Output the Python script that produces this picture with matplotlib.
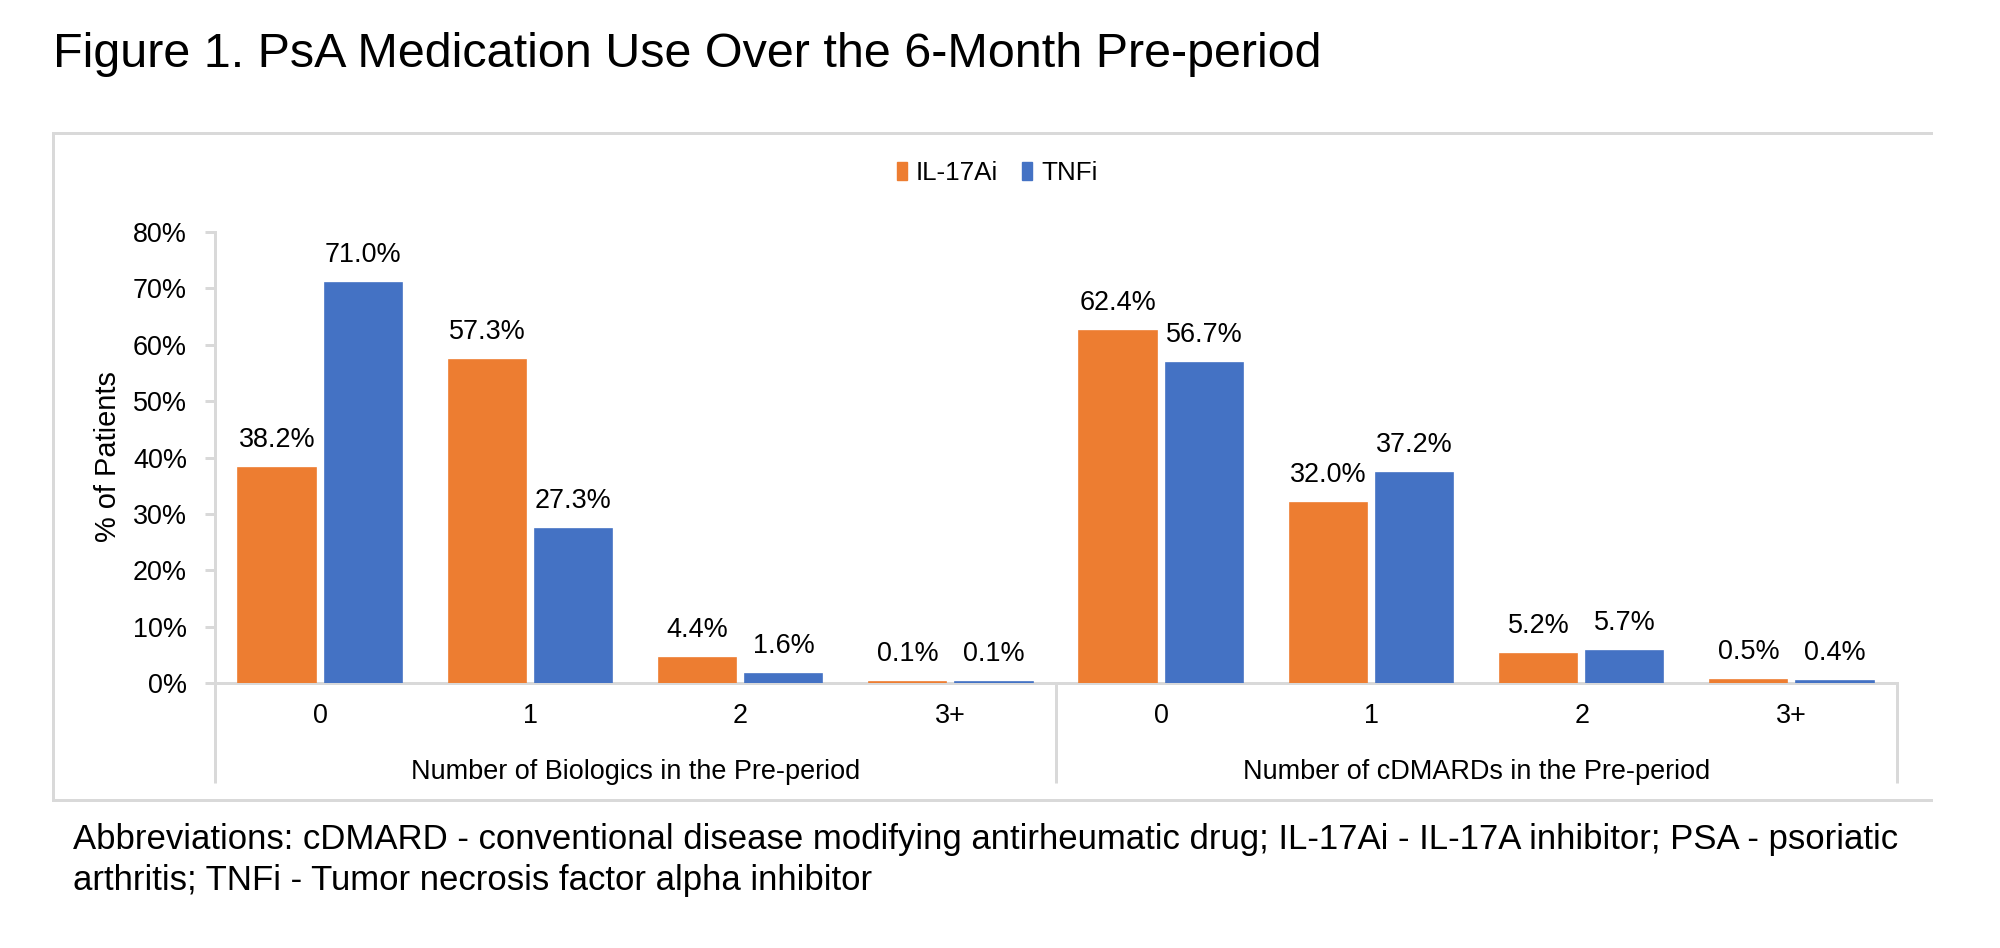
import numpy as np
import matplotlib
matplotlib.use("Agg")
import matplotlib.pyplot as plt
from matplotlib.lines import Line2D
from matplotlib.patches import Patch

plt.rcParams["font.family"] = ["Liberation Sans", "DejaVu Sans"]

# ---- data -----------------------------------------------------------------
CATEGORIES = ["0", "1", "2", "3+"]
GROUPS = ["Number of Biologics in the Pre-period", "Number of cDMARDs in the Pre-period"]
SERIES = ["IL-17Ai", "TNFi"]
IL17_BIOLOGICS = [38.2, 57.3, 4.4, 0.1]
TNF_BIOLOGICS  = [71.0, 27.3, 1.6, 0.1]
IL17_CDMARDS   = [62.4, 32.0, 5.2, 0.5]
TNF_CDMARDS    = [56.7, 37.2, 5.7, 0.4]
Y_TICKS = [0, 10, 20, 30, 40, 50, 60, 70, 80]

TITLE = "Figure 1. PsA Medication Use Over the 6-Month Pre-period"
FOOT_1 = ("Abbreviations: cDMARD - conventional disease modifying antirheumatic drug; "
          "IL-17Ai - IL-17A inhibitor; PSA - psoriatic")
FOOT_2 = "arthritis; TNFi - Tumor necrosis factor alpha inhibitor"

ORANGE = "#ED7D31"
BLUE   = "#4472C4"
GRID   = "#D9D9D9"

W, H = 2000, 948
PT = 0.72  # px -> pt at dpi 100


def fx(px):
    return px / W


def fy(px):
    # pixel row from top -> figure fraction from bottom
    return 1 - px / H


def main():
    fig = plt.figure(figsize=(W / 100, H / 100), dpi=100)

    ax_left, ax_right = 215, 1897
    ax_top, ax_bot = 232, 683
    ax = fig.add_axes([fx(ax_left), fy(ax_bot), (ax_right - ax_left) / W,
                       (ax_bot - ax_top) / H])

    il17 = IL17_BIOLOGICS + IL17_CDMARDS
    tnf = TNF_BIOLOGICS + TNF_CDMARDS
    x = np.arange(len(il17))
    width, off = 0.367, 0.205
    # thin same-colour edge so the 0.1% slivers stay visible, as in Excel
    b1 = ax.bar(x - off, il17, width, color=ORANGE, edgecolor=ORANGE,
                linewidth=1.2, zorder=3)
    b2 = ax.bar(x + off, tnf, width, color=BLUE, edgecolor=BLUE,
                linewidth=1.2, zorder=3)

    for bars in (b1, b2):
        for rect in bars:
            v = rect.get_height()
            ax.annotate(f"{v:.1f}%", (rect.get_x() + rect.get_width() / 2, v),
                        xytext=(0, 21 * PT), textcoords="offset points",
                        ha="center", va="baseline", fontsize=27 * PT)

    ax.set_xlim(-0.5, len(il17) - 0.5)
    ax.set_ylim(0, 80)
    ax.set_yticks(Y_TICKS)
    ax.set_yticklabels([f"{t}%" for t in Y_TICKS])
    ax.set_xticks(x)
    ax.set_xticklabels(CATEGORIES * 2)
    ax.tick_params(axis="y", length=10 * PT, width=3 * PT, color=GRID,
                   pad=18 * PT, labelsize=27 * PT)
    ax.tick_params(axis="x", length=0, pad=20 * PT, labelsize=27 * PT)
    for s in ("top", "right"):
        ax.spines[s].set_visible(False)
    for s in ("left", "bottom"):
        ax.spines[s].set_color(GRID)
        ax.spines[s].set_linewidth(3 * PT)

    # multi-level category separators below the axis
    depth = -(783 - ax_bot) / (ax_bot - ax_top)
    ax.vlines([-0.5, 3.5, 7.5], depth, 0, transform=ax.get_xaxis_transform(),
              colors=GRID, linewidth=3 * PT, clip_on=False)
    for i, g in enumerate(GROUPS):
        ax.text(1.5 + 4 * i, -(779 - ax_bot) / (ax_bot - ax_top), g,
                transform=ax.get_xaxis_transform(), ha="center", va="baseline",
                fontsize=27 * PT)

    fig.text(fx(108), fy(457), "% of Patients", rotation=90, ha="center",
             va="center", fontsize=29 * PT)

    # outer chart frame (no right edge)
    for xs, ys in [((53, 1931), (133, 133)), ((53, 53), (133, 800)),
                   ((53, 1931), (800, 800))]:
        fig.add_artist(Line2D([fx(v) for v in xs], [fy(v) for v in ys],
                              color=GRID, linewidth=3 * PT))

    handles = [Patch(color=ORANGE), Patch(color=BLUE)]
    fig.legend(handles, SERIES, loc="center", bbox_to_anchor=(fx(997), fy(173)),
               ncol=2, frameon=False, fontsize=26 * PT, handlelength=0.385,
               handleheight=0.65, handletextpad=0.35, columnspacing=0.92)

    fig.text(fx(53), fy(67), TITLE, ha="left", va="baseline", fontsize=48.5 * PT)
    fig.text(fx(73), fy(849), FOOT_1, ha="left", va="baseline", fontsize=34.8 * PT)
    fig.text(fx(73), fy(890), FOOT_2, ha="left", va="baseline", fontsize=34.8 * PT)

    fig.savefig("out.png", dpi=100)
    plt.close(fig)


if __name__ == "__main__":
    main()
